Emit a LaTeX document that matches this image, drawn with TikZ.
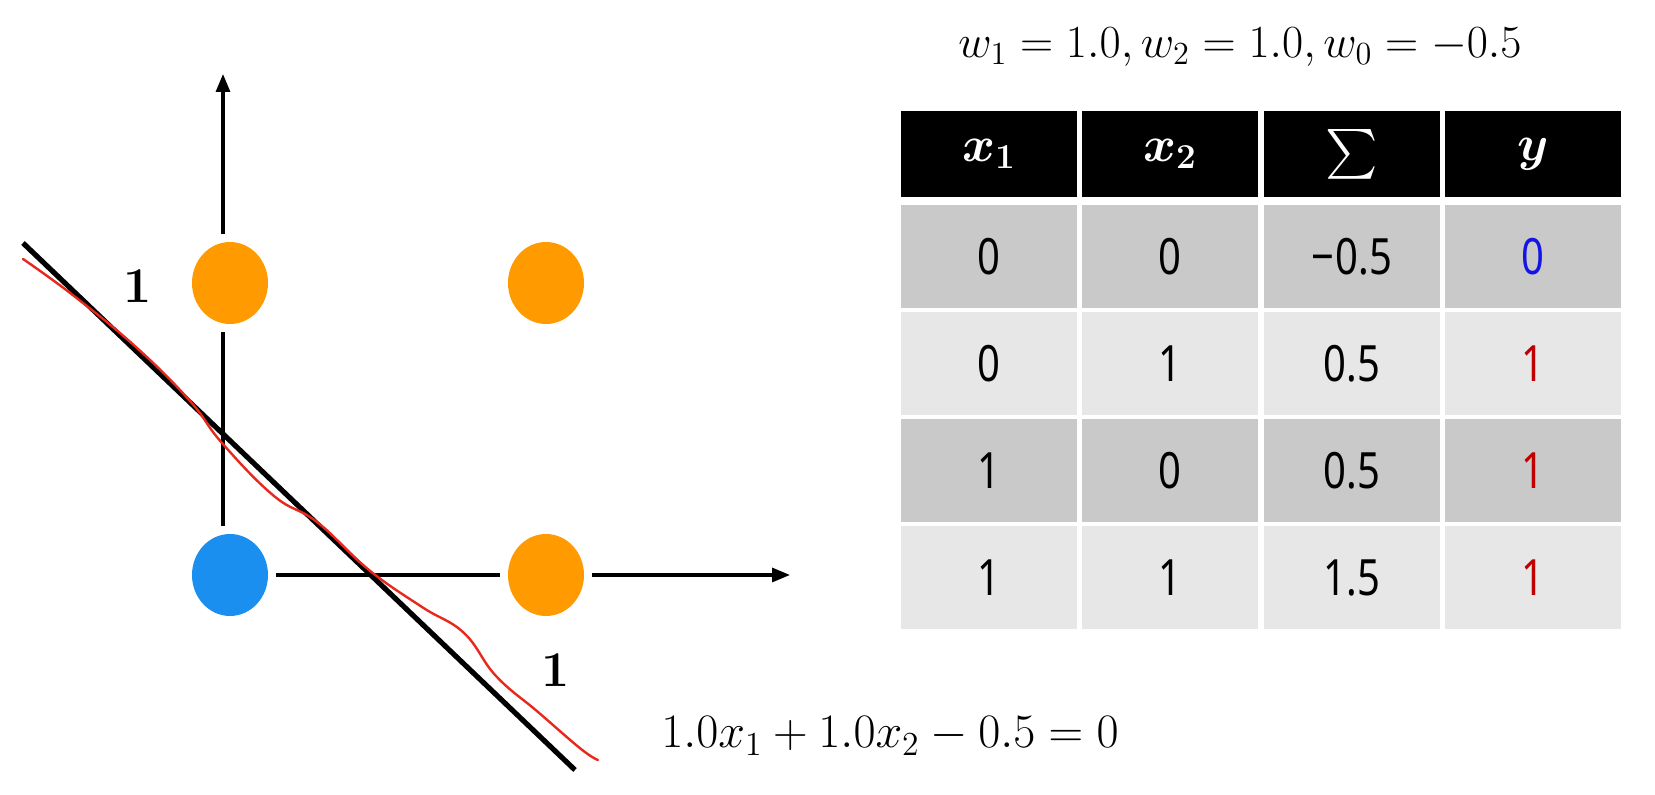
\documentclass[tikz,border=0pt]{standalone}
\usepackage{fix-cm}
\usepackage{fontspec}
\usepackage{amsmath}
\newfontfamily\tablefont[FakeStretch=0.8]{Noto Sans}
\usetikzlibrary{arrows.meta,shapes.geometric}

\definecolor{dotorange}{HTML}{FF9A00}
\definecolor{dotblue}{HTML}{1B8FF0}
\definecolor{curvered}{HTML}{E8281C}
\definecolor{rowdark}{HTML}{C9C9C9}
\definecolor{rowlight}{HTML}{E7E7E7}
\definecolor{yblue}{HTML}{1414E6}
\definecolor{yred}{HTML}{C00000}

\begin{document}
\begin{tikzpicture}[x=0.5pt, y=-0.5pt,
    dot/.style={ellipse, minimum width=38pt, minimum height=41pt, inner sep=0pt, outer sep=4pt},
    axis/.style={line width=1.6pt},
    tick/.style={font=\fontsize{25}{28}\selectfont\bfseries},
    hcell/.style={fill=black, text=white, minimum width=88pt, minimum height=43pt, inner sep=0pt,
                  font=\fontsize{25}{28}\selectfont\boldmath},
    cell/.style={minimum width=88pt, minimum height=51.5pt, inner sep=0pt,
                 font=\fontsize{25}{28}\selectfont\tablefont}]
    \useasboundingbox (0,0) rectangle (1655,795);

    % Input points
    \node[dot, fill=dotblue] (p00) at (230,575) {};
    \node[dot, fill=dotorange] (p10) at (546,575) {};
    \node[dot, fill=dotorange] (p01) at (230,283) {};
    \node[dot, fill=dotorange] (p11) at (546,283) {};

    % Axes
    \coordinate (xtip) at (790,575);
    \coordinate (ytip) at (223,74);
    \draw[axis] (p00.east) -- (p10.west);
    \draw[axis, -{Triangle[length=9pt, width=7pt]}] (p10.east) -- (xtip);
    \draw[axis] ([xshift=-3.5pt]p00.north) -- ([xshift=-3.5pt]p01.south);
    \draw[axis, -{Triangle[length=9pt, width=7pt]}] ([xshift=-3.5pt]p01.north) -- (ytip);
    \node[tick] (one-y) at (138,286) {1};
    \node[tick] (one-x) at (556,670) {1};

    % Decision boundary
    \coordinate (bl) at (23,243);
    \coordinate (br) at (575,770);
    \draw[line width=2.6pt] (bl) -- (br);
    \draw[curvered, line width=1.2pt, line cap=round] plot[smooth, tension=0.7] coordinates {
        (23,259) (74,296) (137,348) (190,401) (222,443) (274,496) (317,522)
        (369,570) (422,607) (464,633) (496,676) (538,712) (581,749) (598,760)};
    \node[font=\fontsize{24}{28}\selectfont] (eq) at (890,736)
        {$1.0x_1 + 1.0x_2 - 0.5 = 0$};

    % Weights
    \node[font=\fontsize{23}{28}\selectfont] (w) at (1240,47)
        {$w_1 = 1.0, w_2 = 1.0, w_0 = -0.5$};

    % Table header
    \node[hcell] (h1) at (989,154) {$x_1$};
    \node[hcell] (h2) at (1170,154) {$x_2$};
    \node[hcell] (h3) at (1352,154) {$\sum$};
    \node[hcell] (h4) at (1533,154) {$y$};

    % Table rows
    \foreach \xa/\xb/\sm/\yv/\ycol/\rowc/\i in {
        0/0/{−\kern0.5pt0.5}/0/yblue/rowdark/1,
        0/1/0.5/1/yred/rowlight/2,
        1/0/0.5/1/yred/rowdark/3,
        1/1/1.5/1/yred/rowlight/4}{
        \node[cell, fill=\rowc] (r\i-1) at (989,{150+107*\i}) {\xa};
        \node[cell, fill=\rowc] (r\i-2) at (1170,{150+107*\i}) {\xb};
        \node[cell, fill=\rowc] (r\i-3) at (1352,{150+107*\i}) {\sm};
        \node[cell, fill=\rowc, text=\ycol] (r\i-4) at (1533,{150+107*\i}) {\yv};
    }
\end{tikzpicture}
\end{document}
